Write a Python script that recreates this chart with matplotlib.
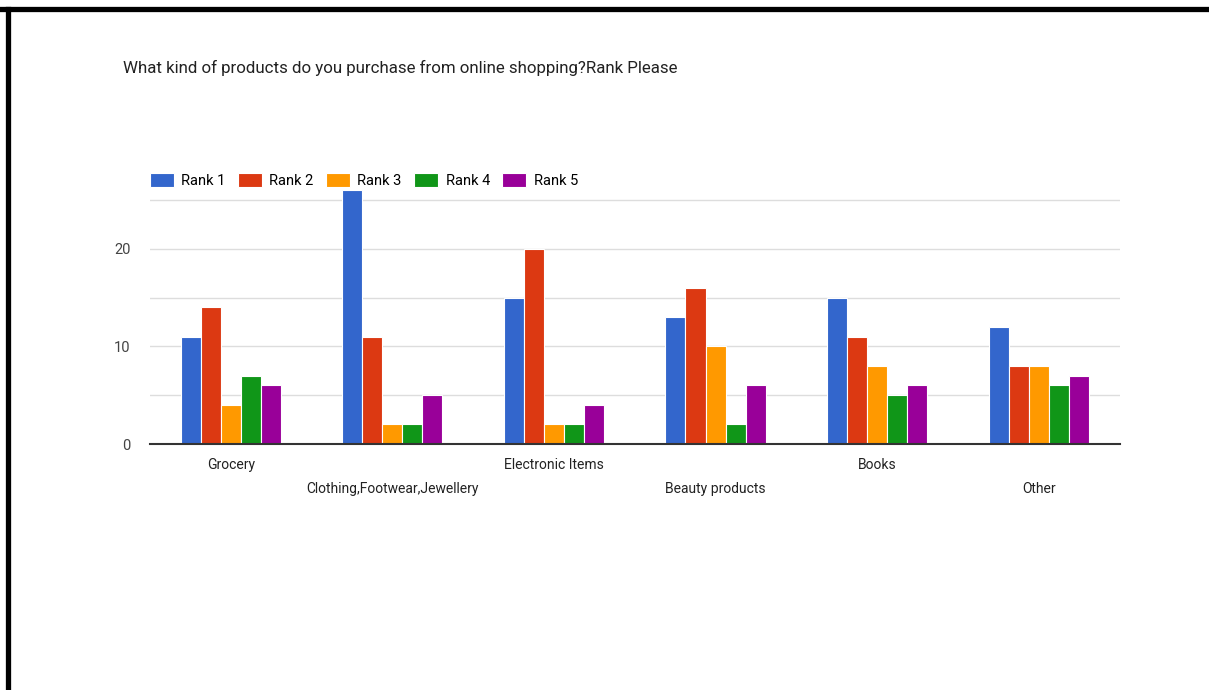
import matplotlib.pyplot as plt
import numpy as np

categories = ["Grocery", "Clothing,Footwear,Jewellery", "Electronic Items",
              "Beauty products", "Books", "Other"]
ranks = ["Rank 1", "Rank 2", "Rank 3", "Rank 4", "Rank 5"]
rank1 = [11, 26, 15, 13, 15, 12]
rank2 = [14, 11, 20, 16, 11, 8]
rank3 = [4, 2, 2, 10, 8, 8]
rank4 = [7, 2, 2, 2, 5, 6]
rank5 = [6, 5, 4, 6, 6, 7]
colors = ["#3366cc", "#dc3912", "#ff9900", "#109618", "#990099"]

plt.rcParams['font.family'] = ['Roboto', 'DejaVu Sans']

fig = plt.figure(figsize=(12.09, 6.9), dpi=100)
ax = fig.add_axes([0.124, 0.3565, 0.802, 0.368])

x = np.arange(len(categories))
w = 0.124
for i, vals in enumerate([rank1, rank2, rank3, rank4, rank5]):
    ax.bar(x + (i - 2) * w, vals, w, color=colors[i], edgecolor="white",
           linewidth=0.8, label=ranks[i], zorder=3)

ax.set_xlim(-0.5, len(categories) - 0.5)
ax.set_ylim(0, 26)
ax.set_yticks([0, 5, 10, 15, 20, 25])
ax.set_yticklabels(["0", "", "10", "", "20", ""])
ax.grid(axis="y", color="#dddddd", linewidth=1, zorder=0)
for s in ["top", "right", "left"]:
    ax.spines[s].set_visible(False)
ax.spines["bottom"].set_color("#333333")
ax.spines["bottom"].set_linewidth(1.5)
ax.spines["bottom"].set_zorder(4)
ax.tick_params(axis="both", length=0, colors="#444444", labelsize=10.5)
ax.tick_params(axis="y", pad=14)
ax.set_xticks([])
# category labels alternate between two rows
for i, c in enumerate(categories):
    yoff = -0.083 if i % 2 == 0 else -0.177
    ax.text(i, yoff, c, transform=ax.get_xaxis_transform(), ha="center", va="center",
            fontsize=10, color="#222222")

fig.text(123 / 1209, 1 - 68 / 690, "What kind of products do you purchase from online shopping?Rank Please",
         fontsize=12.2, color="#222222", va="center", ha="left")

ax.legend(loc="center left", bbox_to_anchor=(0, 1 + 10 / 254), ncol=5, frameon=False,
          fontsize=10.5, handlelength=1.65, handleheight=1.1, columnspacing=0.85,
          handletextpad=0.5, borderaxespad=0, borderpad=0)

# black border on top and left
fig.add_artist(plt.Line2D([0, 1], [1 - 8.5 / 690] * 2, color="black", linewidth=3.8,
                          transform=fig.transFigure))
fig.add_artist(plt.Line2D([7.5 / 1209] * 2, [0, 1 - 8.5 / 690], color="black", linewidth=3.8,
                          transform=fig.transFigure))

fig.savefig("out.png", dpi=100)
